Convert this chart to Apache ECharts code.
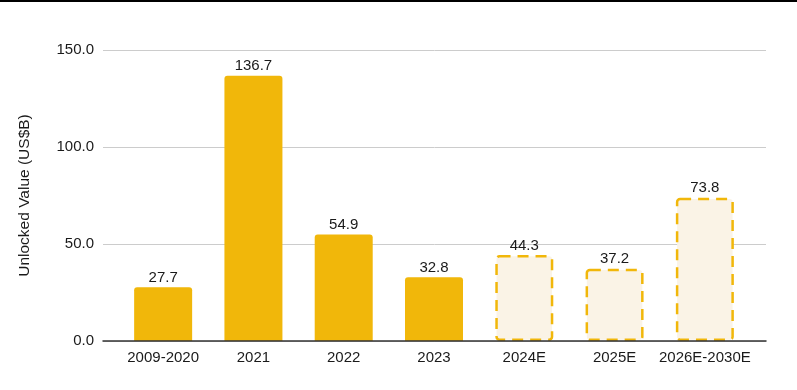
<!DOCTYPE html>
<html><head><meta charset="utf-8">
<script src="https://cdn.jsdelivr.net/npm/echarts@6/dist/echarts.min.js"></script>
<style>html,body{margin:0;padding:0;background:#fff}#c{width:797px;height:390px;box-sizing:border-box;border-top:2px solid #000}</style>
</head><body><div id="c"></div>
<script>
const categories = ['2009-2020','2021','2022','2023','2024E','2025E','2026E-2030E'];
const actualValues = [27.7, 136.7, 54.9, 32.8, '-', '-', '-'];
const estimateValues = ['-', '-', '-', '-', 44.3, 37.2, 73.8];
const yTicks = [0, 50, 100, 150];
const yTitle = 'Unlocked Value (US$B)';

const font = 'Liberation Sans, Arial, sans-serif';
const chart = echarts.init(document.getElementById('c'));
const lbl = {show:true, position:'top', distance:2, fontSize:15, color:'#1a1a1a', fontFamily:font,
  formatter:p=>Number(p.value).toFixed(1)};
chart.setOption({
  animation:false,
  grid:[
    {left:103, right:31, top:48, bottom:49, containLabel:false},
    {left:118, right:47, top:48, bottom:49, containLabel:false}
  ],
  xAxis:[
    {gridIndex:0, type:'category', data:categories, axisLabel:{show:false}, axisTick:{show:false},
     axisLine:{show:true, lineStyle:{color:'#333', width:1.5}}, z:5},
    {gridIndex:1, type:'category', data:categories, axisTick:{show:false}, axisLine:{show:false},
     axisLabel:{fontSize:15, color:'#1a1a1a', fontFamily:font, margin:9, interval:0}}
  ],
  yAxis:[
    {gridIndex:0, type:'value', min:yTicks[0], max:yTicks[yTicks.length-1], interval:50,
     name:yTitle, nameLocation:'middle', nameGap:70, nameTextStyle:{fontSize:15.5, color:'#1a1a1a', fontFamily:font},
     axisLabel:{fontSize:15, color:'#1a1a1a', fontFamily:font, margin:9, formatter:v=>v.toFixed(1)},
     axisLine:{show:false}, axisTick:{show:false}, splitLine:{lineStyle:{color:'#ccc', width:1}}},
    {gridIndex:1, type:'value', min:yTicks[0], max:yTicks[yTicks.length-1], interval:50, show:false,
     splitLine:{show:false}}
  ],
  series:[
    {type:'bar', xAxisIndex:1, yAxisIndex:1, stack:'s', data:actualValues, barWidth:58,
     itemStyle:{color:'#F1B70A', borderRadius:[3,3,0,0]}, label:lbl},
    {type:'bar', xAxisIndex:1, yAxisIndex:1, stack:'s', data:estimateValues, barWidth:58,
     itemStyle:{color:'#FAF3E6', borderColor:'#F1B70A', borderWidth:2.5, borderType:[11,7], borderRadius:3},
     label:lbl}
  ]
});
</script></body></html>
